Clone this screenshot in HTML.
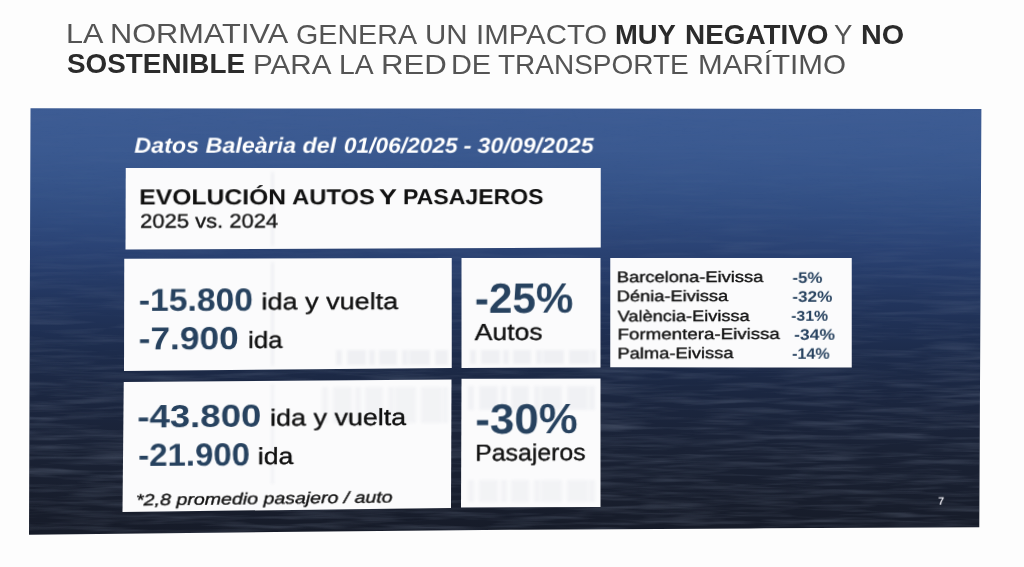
<!DOCTYPE html>
<html lang="es"><head><meta charset="utf-8"><title>Impacto normativa transporte marítimo</title>
<style>
html,body{margin:0;padding:0}
body{width:1024px;height:567px;overflow:hidden;background:#fdfdfd;position:relative;font-family:"Liberation Sans", sans-serif}
.title{position:absolute;left:0;top:0;margin:0;font-weight:normal;color:#545454;white-space:nowrap}
.title span,.title b{position:absolute;line-height:1;transform-origin:0 85%;white-space:nowrap}
.title b{color:#2b2b2b}
.sea{position:absolute;left:0;top:0;width:1024px;height:567px;clip-path:polygon(30.5px 108.2px,981.4px 109px,979.3px 527.3px,750px 528.4px,520px 529.7px,275px 532.1px,29px 534.7px);
 background:linear-gradient(180deg,rgb(61,92,148) 108px,rgb(58,89,144) 150px,rgb(54,84,138) 180px,rgb(48,76,128) 215px,rgb(42,66,115) 250px,rgb(34,53,93) 300px,rgb(29,44,76) 350px,rgb(27,38,63) 400px,rgb(26,34,53) 450px,rgb(24,30,45) 500px,rgb(22,27,40) 535px)}
.rip{position:absolute;left:0;top:0;-webkit-mask-image:linear-gradient(180deg,rgba(0,0,0,.08) 108px,rgba(0,0,0,.25) 230px,rgba(0,0,0,.7) 330px,#000 430px);mask-image:linear-gradient(180deg,rgba(0,0,0,.08) 108px,rgba(0,0,0,.25) 230px,rgba(0,0,0,.7) 330px,#000 430px)}
.panel{position:absolute;left:0;top:0;width:950px;height:420px;transform-origin:0 0;transform:matrix3d(1.0217047,0.0033580661,0,2.1150775e-05,-0.0035247674,1.0168127,0,1.6090052e-06,0,0,1,0,30.5,108,0,1)}
.box{position:absolute;background:#fbfbfc}
.gh{position:absolute;background:repeating-linear-gradient(90deg,#5a6a88 0 6px,transparent 6px 11px),repeating-linear-gradient(90deg,transparent 0 13px,#5a6a88 13px 30px);filter:blur(1.8px)}
.t{position:absolute;line-height:1;white-space:nowrap;transform-origin:0 85%}
.m{-webkit-text-stroke:.35px #111}
</style></head>
<body>
<h1 class="title"><span id="ta0" style="left:65.80px;top:19.91px;font-size:27.50px;transform:scaleX(1.1122)">LA</span> <span id="ta1" style="left:110.30px;top:20.45px;font-size:27.50px;transform:scaleX(1.1176)">NORMATIVA</span> <span id="ta2" style="left:296.10px;top:21.08px;font-size:27.50px;transform:scaleX(1.0420)">GENERA</span> <span id="ta3" style="left:424.70px;top:21.33px;font-size:27.50px;transform:scaleX(1.0726)">UN</span> <span id="ta4" style="left:475.80px;top:21.39px;font-size:27.50px;transform:scaleX(1.0686)">IMPACTO</span> <b id="ta5" style="left:615.30px;top:21.35px;font-size:27.50px;transform:scaleX(0.9964)">MUY</b> <b id="ta6" style="left:685.00px;top:21.26px;font-size:27.50px;transform:scaleX(1.0140)">NEGATIVO</b> <span id="ta7" style="left:834.40px;top:21.18px;font-size:27.50px;transform:scaleX(1.0018)">Y</span> <b id="ta8" style="left:861.30px;top:21.14px;font-size:27.50px;transform:scaleX(1.0460)">NO</b> <b id="tb0" style="left:66.50px;top:50.14px;font-size:27.50px;transform:scaleX(1.0131)">SOSTENIBLE</b> <span id="tb1" style="left:253.10px;top:50.79px;font-size:27.50px;transform:scaleX(1.0770)">PARA</span> <span id="tb2" style="left:338.70px;top:50.98px;font-size:27.50px;transform:scaleX(1.0307)">LA</span> <span id="tb3" style="left:381.20px;top:51.14px;font-size:27.50px;transform:scaleX(1.1344)">RED</span> <span id="tb4" style="left:451.20px;top:51.30px;font-size:27.50px;transform:scaleX(1.0510)">DE</span> <span id="tb5" style="left:497.70px;top:51.27px;font-size:27.50px;transform:scaleX(1.0175)">TRANSPORTE</span> <span id="tb6" style="left:698.30px;top:51.15px;font-size:27.50px;transform:scaleX(1.0763)">MARÍTIMO</span></h1>
<div class="sea"><svg class="rip" width="1024" height="567" viewBox="0 0 1024 567" aria-hidden="true"><filter id="w" x="0" y="0" width="100%" height="100%" color-interpolation-filters="sRGB"><feTurbulence type="fractalNoise" baseFrequency="0.014 0.2" numOctaves="3" seed="7"/><feColorMatrix type="matrix" values="0 0 0 0 0.56  0 0 0 0 0.61  0 0 0 0 0.70  0.36 0.36 0 0 -0.31"/></filter><rect width="1024" height="567" filter="url(#w)"/></svg></div>
<div class="box" style="left:125px;top:168px;width:476px;height:82px;clip-path:polygon(0.75px 0.00px,475.75px 0.00px,475.75px 79.60px,0.50px 81.40px)"></div>
<div class="box" style="left:124px;top:258px;width:328px;height:113px;clip-path:polygon(0.25px 0.75px,327.75px 0.00px,327.75px 110.00px,0.00px 113.00px)"></div>
<div class="box" style="left:461px;top:258px;width:140px;height:110px;clip-path:polygon(0.50px 0.00px,139.50px 0.00px,139.50px 109.60px,0.50px 110.00px)"></div>
<div class="box" style="left:610px;top:258px;width:242px;height:110px;clip-path:polygon(0.25px 0.00px,241.75px 0.00px,241.75px 109.60px,0.25px 109.20px)"></div>
<div class="box" style="left:122px;top:379px;width:330px;height:133px;clip-path:polygon(1.75px 3.00px,329.50px 0.50px,329.00px 129.00px,0.50px 133.00px)"></div>
<div class="box" style="left:461px;top:378px;width:140px;height:130px;clip-path:polygon(0.50px 0.75px,139.50px 0.50px,139.50px 129.00px,0.00px 129.50px)"></div>
<div class="gh" style="left:336px;top:350px;width:112px;height:15px;opacity:0.07"></div>
<div class="gh" style="left:470px;top:350px;width:126px;height:14px;opacity:0.07"></div>
<div class="gh" style="left:322px;top:387px;width:126px;height:36px;opacity:0.05"></div>
<div class="gh" style="left:468px;top:386px;width:128px;height:24px;opacity:0.06"></div>
<div class="gh" style="left:468px;top:480px;width:128px;height:22px;opacity:0.05"></div>
<div class="gh" style="left:271px;top:172px;width:3px;height:74px;opacity:0.07"></div>
<div class="gh" style="left:271px;top:262px;width:3px;height:104px;opacity:0.07"></div>
<div class="gh" style="left:271px;top:384px;width:3px;height:100px;opacity:0.06"></div>
<div class="panel">
<span class="t" id="dat1" style="left:102.22px;top:27.04px;font-size:21.39px;font-style:italic;font-weight:bold;color:#fff;transform:scaleX(1.0756)">Datos Baleària del</span>
<span class="t" id="dat2" style="left:309.21px;top:26.72px;font-size:21.39px;font-style:italic;font-weight:bold;color:#fff;transform:scaleX(1.0582)">01/06/2025</span>
<span class="t" id="dat3" style="left:428.19px;top:26.60px;font-size:21.39px;font-style:italic;font-weight:bold;color:#fff;transform:scaleX(1.1499)">-</span>
<span class="t" id="dat4" style="left:441.76px;top:26.50px;font-size:21.39px;font-style:italic;font-weight:bold;color:#fff;transform:scaleX(1.0865)">30/09/2025</span>
<span class="t" id="evo1" style="left:107.42px;top:78.02px;font-size:21.39px;font-weight:bold;color:#111;transform:scaleX(1.1408)">EVOLUCIÓN</span>
<span class="t" id="evo2" style="left:257.97px;top:78.06px;font-size:21.39px;font-weight:bold;color:#111;transform:scaleX(1.1010)">AUTOS</span>
<span class="t" id="evo3" style="left:343.78px;top:78.05px;font-size:21.39px;font-weight:bold;color:#111;transform:scaleX(1.2600)">Y</span>
<span class="t" id="evo4" style="left:368.04px;top:77.97px;font-size:21.39px;font-weight:bold;color:#111;transform:scaleX(1.0763)">PASAJEROS</span>
<span class="t m" id="vs" style="left:107.90px;top:101.77px;font-size:19.43px;color:#1a1a1a;transform:scaleX(1.1161)">2025 vs. 2024</span>
<span class="t" id="n1" style="left:106.82px;top:173.90px;font-size:31.39px;font-weight:bold;color:#27425f;transform:scaleX(1.0583)">-15.800</span>
<span class="t m" id="l1" style="left:227.88px;top:180.16px;font-size:23.06px;color:#111;transform:scaleX(1.1633)">ida y vuelta</span>
<span class="t" id="n2" style="left:106.96px;top:212.18px;font-size:31.39px;font-weight:bold;color:#27425f;transform:scaleX(1.1085)">-7.900</span>
<span class="t m" id="l2" style="left:214.89px;top:218.39px;font-size:23.06px;color:#111;transform:scaleX(1.1068)">ida</span>
<span class="t" id="p1" style="left:440.33px;top:168.27px;font-size:41.99px;font-weight:bold;color:#27425f;transform:scaleX(1.0052)">-25%</span>
<span class="t m" id="a1" style="left:440.15px;top:210.75px;font-size:23.15px;color:#111;transform:scaleX(1.1470)">Autos</span>
<span class="t" id="n3" style="left:105.96px;top:289.05px;font-size:31.39px;font-weight:bold;color:#27425f;transform:scaleX(1.1489)">-43.800</span>
<span class="t m" id="l3" style="left:237.14px;top:294.96px;font-size:23.06px;color:#111;transform:scaleX(1.1582)">ida y vuelta</span>
<span class="t" id="n4" style="left:107.10px;top:327.24px;font-size:31.39px;font-weight:bold;color:#27425f;transform:scaleX(1.0359)">-21.900</span>
<span class="t m" id="l4" style="left:224.92px;top:333.38px;font-size:23.06px;color:#111;transform:scaleX(1.1446)">ida</span>
<span class="t m" id="fn" style="left:105.47px;top:378.65px;font-size:15.89px;font-style:italic;color:#111;transform:rotate(-0.28deg) scaleX(1.2187)">*2,8 promedio pasajero / auto</span>
<span class="t" id="p2" style="left:440.94px;top:287.92px;font-size:41.99px;font-weight:bold;color:#27425f;transform:scaleX(1.0452)">-30%</span>
<span class="t m" id="a2" style="left:441.06px;top:331.20px;font-size:23.15px;color:#111;transform:scaleX(1.0742)">Pasajeros</span>
<span class="t m" id="r1" style="left:582.25px;top:160.24px;font-size:15.30px;color:#111;transform:scaleX(1.2050)">Barcelona-Eivissa</span>
<span class="t m" id="r2" style="left:582.34px;top:179.47px;font-size:15.30px;color:#111;transform:scaleX(1.1999)">Dénia-Eivissa</span>
<span class="t m" id="r3" style="left:582.72px;top:198.60px;font-size:15.30px;color:#111;transform:scaleX(1.1963)">València-Eivissa</span>
<span class="t m" id="r4" style="left:582.51px;top:217.43px;font-size:15.30px;color:#111;transform:scaleX(1.2328)">Formentera-Eivissa</span>
<span class="t m" id="r5" style="left:582.59px;top:236.27px;font-size:15.30px;color:#111;transform:scaleX(1.2050)">Palma-Eivissa</span>
<span class="t" id="q1" style="left:758.73px;top:160.69px;font-size:15.30px;font-weight:bold;color:#27425f;transform:scaleX(1.1173)">-5%</span>
<span class="t" id="q2" style="left:758.83px;top:179.99px;font-size:15.30px;font-weight:bold;color:#27425f;transform:scaleX(1.1343)">-32%</span>
<span class="t" id="q3" style="left:758.41px;top:199.19px;font-size:15.30px;font-weight:bold;color:#27425f;transform:scaleX(1.0431)">-31%</span>
<span class="t" id="q4" style="left:761.03px;top:218.10px;font-size:15.30px;font-weight:bold;color:#27425f;transform:scaleX(1.1564)">-34%</span>
<span class="t" id="q5" style="left:759.35px;top:237.40px;font-size:15.30px;font-weight:bold;color:#27425f;transform:scaleX(1.0642)">-14%</span>
<span class="t" id="pg" style="left:908.32px;top:388.16px;font-size:10.79px;font-weight:bold;color:#e8e8ee;transform:scaleX(1.0181)">7</span>
</div>
</body></html>
